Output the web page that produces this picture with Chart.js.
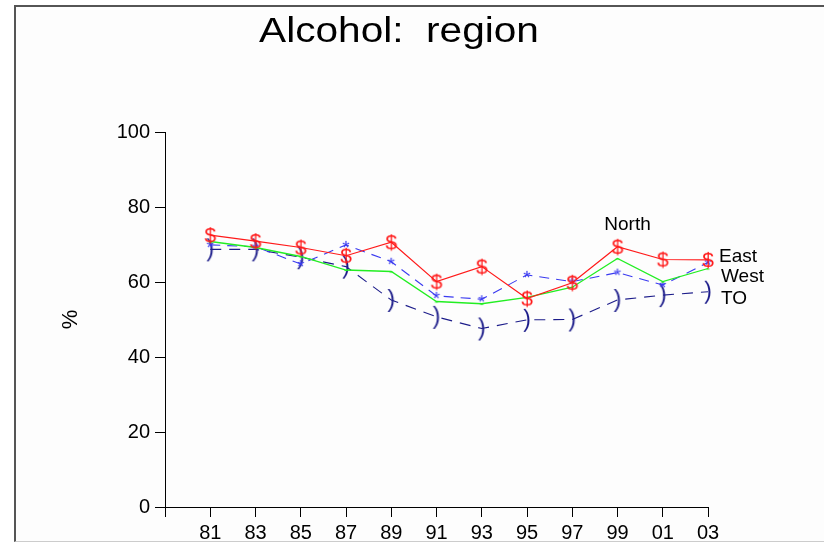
<!DOCTYPE html>
<html>
<head>
<meta charset="utf-8">
<script src="https://cdn.jsdelivr.net/npm/chart.js@4/dist/chart.umd.min.js"></script>
<style>
  html, body { margin: 0; padding: 0; background: #fff; }
  #wrap { position: relative; width: 824px; height: 544px; overflow: hidden; }
  #frame {
    position: absolute; left: 14px; top: 5px; right: 0; bottom: 2px;
    border-left: 2px solid #555; border-top: 2px solid #555;
    border-bottom: 1px solid #ccc; background: #fdfdfd;
  }
  canvas { position: absolute; left: 0; top: 0; }
</style>
</head>
<body>
<div id="wrap">
  <div id="frame"></div>
  <canvas id="chart" width="824" height="544"></canvas>
</div>
<script>
// survey years (x axis), 79 is an unlabeled start tick
const years = [1981, 1983, 1985, 1987, 1989, 1991, 1993, 1995, 1997, 1999, 2001, 2003];
const northValues = [72.5, 70.9, 69.2, 67.0, 70.6, 60.1, 64.1, 55.6, 59.8, 69.4, 66.0, 65.9];
const eastValues  = [70.8, 69.2, 66.8, 63.2, 62.8, 54.8, 54.2, 55.9, 58.6, 66.3, 60.1, 63.6];
const westValues  = [69.9, 69.4, 64.8, 69.9, 65.4, 56.3, 55.4, 61.9, 60.1, 62.5, 59.2, 65.2];
const toValues    = [68.7, 68.7, 66.6, 64.1, 55.2, 50.7, 47.6, 49.9, 50.0, 55.2, 56.5, 57.4];
const yTicks = [0, 20, 40, 60, 80, 100];

const FONT = 'Liberation Sans, Arial, sans-serif';

// text glyphs used as point markers
function glyph(ch, size, color, w, h, dy) {
  const c = document.createElement('canvas');
  c.width = w; c.height = h;
  const ctx = c.getContext('2d');
  ctx.fillStyle = color;
  ctx.font = size + 'px ' + FONT;
  ctx.textAlign = 'center';
  ctx.textBaseline = 'middle';
  ctx.fillText(ch, w / 2, h / 2 + (dy || 1));
  return c;
}

const toXY = vals => vals.map((v, i) => ({ x: years[i], y: v }));

// stretched text like the original export
function wideText(ctx, text, x, y, sx) {
  ctx.save();
  ctx.translate(x, y);
  ctx.scale(sx, 1);
  ctx.fillText(text, 0, 0);
  ctx.restore();
}

const seriesLabels = {
  id: 'seriesLabels',
  afterDraw(chart) {
    const { ctx, scales: { x, y } } = chart;
    ctx.save();
    ctx.fillStyle = '#000';
    ctx.font = '19px ' + FONT;
    ctx.textBaseline = 'middle';
    ctx.textAlign = 'center';
    ctx.fillText('North', x.getPixelForValue(1999) + 10, y.getPixelForValue(75.2));
    ctx.textAlign = 'left';
    const lx = x.getPixelForValue(2003) + 11;
    ctx.fillText('East', lx, y.getPixelForValue(66.7));
    ctx.fillText('West', lx + 2, y.getPixelForValue(61.3));
    ctx.fillText('TO', lx + 2, y.getPixelForValue(55.5));

    // title
    ctx.textAlign = 'center';
    ctx.textBaseline = 'alphabetic';
    ctx.font = '35px ' + FONT;
    wideText(ctx, 'Alcohol:  region', 399, 42, 1.16);

    // y axis title
    ctx.textBaseline = 'middle';
    ctx.font = '22px ' + FONT;
    ctx.translate(71, (y.top + y.bottom) / 2);
    ctx.rotate(-Math.PI / 2);
    ctx.fillText('%', 0, 0);
    ctx.restore();
  }
};

new Chart(document.getElementById('chart'), {
  type: 'line',
  data: {
    datasets: [
      {
        label: 'North', data: toXY(northValues),
        borderColor: '#ff1a1a', borderWidth: 1.2,
        pointStyle: glyph('$', 21, '#ff1a1a', 16, 26)
      },
      {
        label: 'East', data: toXY(eastValues),
        borderColor: '#22ee22', borderWidth: 1.3,
        pointStyle: glyph('-', 12, '#22ee22', 10, 10)
      },
      {
        label: 'West', data: toXY(westValues),
        borderColor: '#3a3af0', borderWidth: 1.1, borderDash: [10, 7],
        pointStyle: glyph('*', 19, '#3a3af0', 14, 16, 4)
      },
      {
        label: 'TO', data: toXY(toValues),
        borderColor: '#1c1c8a', borderWidth: 1.1, borderDash: [11, 8],
        pointStyle: glyph(')', 23, '#1c1c8a', 14, 28)
      }
    ]
  },
  options: {
    responsive: false,
    animation: false,
    events: [],
    layout: { padding: { left: 0, top: 132, right: 116, bottom: 0 } },
    plugins: { legend: { display: false }, tooltip: { enabled: false }, title: { display: false } },
    elements: { line: { tension: 0, fill: false }, point: { radius: 6 } },
    datasets: { line: { clip: false } },
    scales: {
      x: {
        type: 'linear', min: 1979, max: 2003,
        afterFit: s => { s.height = 37; },
        afterBuildTicks: s => { s.ticks = [1979].concat(years).map(v => ({ value: v })); },
        grid: { drawOnChartArea: false, drawTicks: true, tickLength: 10, color: '#000', lineWidth: 1 },
        border: { display: true, color: '#000', width: 1 },
        ticks: {
          color: '#000', padding: 4, maxRotation: 0, autoSkip: false,
          font: { family: FONT, size: 20 },
          callback: v => v === 1979 ? '' : String(v).slice(2)
        }
      },
      y: {
        min: 0, max: 100,
        afterFit: s => { s.width = 165; },
        afterBuildTicks: s => { s.ticks = yTicks.map(v => ({ value: v })); },
        grid: { drawOnChartArea: false, drawTicks: true, tickLength: 10, color: '#000', lineWidth: 1 },
        border: { display: true, color: '#000', width: 1 },
        ticks: { color: '#000', padding: 5, font: { family: FONT, size: 20 } }
      }
    }
  },
  plugins: [seriesLabels]
});
</script>
</body>
</html>
